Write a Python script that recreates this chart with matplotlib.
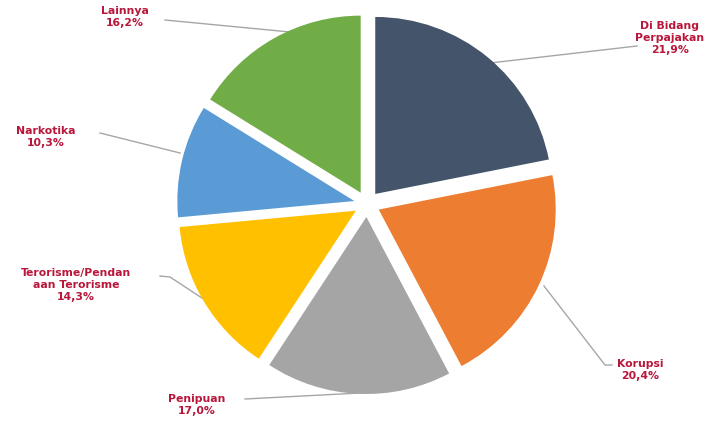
import matplotlib.pyplot as plt

categories = [
    "Di Bidang\nPerpajakan",
    "Korupsi",
    "Penipuan",
    "Terorisme/Pendan\naan Terorisme",
    "Narkotika",
    "Lainnya",
]
shares = [21.9, 20.4, 17.0, 14.3, 10.3, 16.2]
colors = ["#44546A", "#ED7D31", "#A5A5A5", "#FFC000", "#5B9BD5", "#70AD47"]

W, H = 712, 423
fig = plt.figure(figsize=(W / 100, H / 100), dpi=100)
ax = fig.add_axes([0, 0, 1, 1])

# explode is an absolute offset in data units (pixels here)
ax.pie(
    shares,
    colors=colors,
    startangle=90,
    counterclock=False,
    center=(367, H - 204),
    radius=177,
    explode=[13] * len(shares),
    wedgeprops={"linewidth": 0},
)
# pie resets the limits, so set the pixel frame afterwards
ax.set_xlim(0, W)
ax.set_ylim(0, H)
ax.set_aspect("equal")
ax.axis("off")

# label text positions (pixel coords, y from top) and leader lines
label_pos = [(670, 38), (640, 370), (197, 405), (76, 285), (46, 137), (125, 17)]
leaders = [
    [(490, 63), (637, 46)],
    [(544, 286), (605, 365), (612, 365)],
    [(360, 393), (245, 399)],
    [(205, 300), (170, 277), (160, 276)],
    [(180, 153), (100, 133)],
    [(290, 32), (165, 20)],
]

for name, val, (x, y) in zip(categories, shares, label_pos):
    txt = f"{name}\n{val:.1f}%".replace(".", ",")
    ax.text(x, H - y, txt, ha="center", va="center", fontsize=7.8,
            fontweight="bold", color="#B8163A", linespacing=1.25)

for pts in leaders:
    xs = [p[0] for p in pts]
    ys = [H - p[1] for p in pts]
    ax.plot(xs, ys, color="#A6A6A6", lw=1, zorder=0)

fig.savefig("out.png", dpi=100)
